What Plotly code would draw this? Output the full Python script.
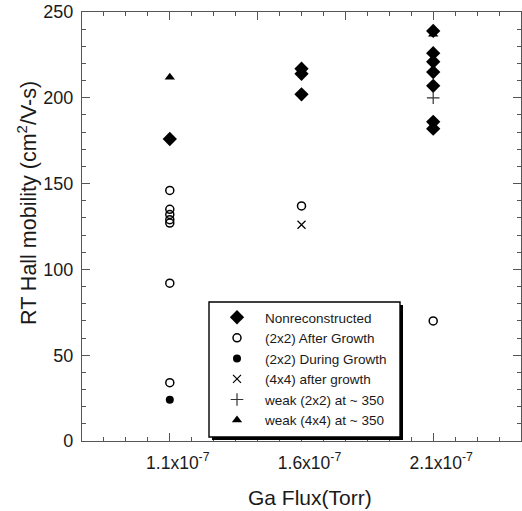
import plotly.graph_objects as go

# x values in units of 1e-7 Torr
tick_vals = [1.1, 1.6, 2.1]
tick_text = ["1.1x10<sup>-7</sup>", "1.6x10<sup>-7</sup>", "2.1x10<sup>-7</sup>"]

nonrec_x = [1.1, 1.6, 1.6, 1.6, 2.1, 2.1, 2.1, 2.1, 2.1, 2.1, 2.1]
nonrec_y = [176, 217, 214, 202, 239, 226, 221, 215, 207, 186, 182]

after_x = [1.1, 1.1, 1.1, 1.1, 1.1, 1.1, 1.1, 1.6, 2.1]
after_y = [146, 135, 132, 129, 127, 92, 34, 137, 70]

during_x = [1.1]
during_y = [24]

x44_x = [1.6]
x44_y = [126]

weak22_x = [2.1]
weak22_y = [200]

weak44_x = [1.1, 2.1]
weak44_y = [212, 237]

font_family = "Liberation Sans, Arial, sans-serif"
text_color = "#1a1a1a"

fig = go.Figure()
fig.add_trace(go.Scatter(x=weak44_x, y=weak44_y, mode="markers", name="weak (4x4) at ~ 350",
                         marker=dict(symbol="triangle-up", size=9, color="black"), legendrank=6))
fig.add_trace(go.Scatter(x=nonrec_x, y=nonrec_y, mode="markers", name="Nonreconstructed",
                         marker=dict(symbol="diamond", size=11, color="black"), legendrank=1))
fig.add_trace(go.Scatter(x=after_x, y=after_y, mode="markers", name="(2x2) After Growth",
                         marker=dict(symbol="circle-open", size=8, color="black", line=dict(width=1.5)), legendrank=2))
fig.add_trace(go.Scatter(x=during_x, y=during_y, mode="markers", name="(2x2) During Growth",
                         marker=dict(symbol="circle", size=8, color="black"), legendrank=3))
fig.add_trace(go.Scatter(x=x44_x, y=x44_y, mode="markers", name="(4x4) after growth",
                         marker=dict(symbol="x-thin-open", size=8, color="black", line=dict(width=1.2)), legendrank=4))
fig.add_trace(go.Scatter(x=weak22_x, y=weak22_y, mode="markers", name="weak (2x2) at ~ 350",
                         marker=dict(symbol="cross-thin-open", size=9, color="#333", line=dict(width=1.2)), legendrank=5))

axis_color = "#555555"
xr = [1.1 - 1/3, 2.1 + 1/3]
label_shift = 8 / 263.4
xr2 = [xr[0] - label_shift, xr[1] - label_shift]


def px_x(p):
    return (p - 82) / 439


def px_y(p):
    return (441 - p) / 429


fig.update_layout(
    width=522, height=511,
    margin=dict(l=82, r=1, t=12, b=70),
    paper_bgcolor="white", plot_bgcolor="white",
    font=dict(family=font_family, color=text_color, size=14),
    xaxis=dict(range=xr, tick0=xr[0], dtick=1/3, ticks="inside", ticklen=8, tickcolor=axis_color,
               showticklabels=False, showline=True, linecolor=axis_color, linewidth=1.2,
               mirror="ticks", showgrid=False, zeroline=False,
               minor=dict(tick0=xr[0], dtick=1/12, ticks="inside", ticklen=4, tickcolor=axis_color, showgrid=False)),
    xaxis2=dict(range=xr2, overlaying="x", anchor="y", side="bottom", tickvals=tick_vals, ticktext=tick_text,
                ticks="", showline=False, showgrid=False, zeroline=False, ticklabelstandoff=9,
                tickfont=dict(size=17.5, family=font_family, color=text_color)),
    yaxis=dict(range=[0, 250], tick0=0, dtick=50, ticks="inside", ticklen=8, tickcolor=axis_color,
               showline=True, linecolor=axis_color, linewidth=1.2, mirror="ticks",
               showgrid=False, zeroline=False, tickfont=dict(size=18), ticklabelstandoff=4,
               minor=dict(dtick=10, ticks="inside", ticklen=4, tickcolor=axis_color, showgrid=False)),
    legend=dict(x=px_x(209), y=px_y(302), xanchor="left", yanchor="top", bgcolor="rgba(0,0,0,0)",
                borderwidth=0, font=dict(size=13.5, family=font_family, color=text_color),
                itemwidth=46, tracegroupgap=0),
    showlegend=True,
)

# dummy trace to activate xaxis2
fig.add_trace(go.Scatter(x=[None], y=[None], xaxis="x2", showlegend=False, hoverinfo="skip"))

# legend frame with drop shadow
box = (209, 302, 400, 437)
sh = 3
fig.add_shape(type="rect", xref="paper", yref="paper",
              x0=px_x(box[0] + sh), x1=px_x(box[2] + sh), y0=px_y(box[3] + sh), y1=px_y(box[1] + sh),
              fillcolor="black", line=dict(width=0), layer="above")
fig.add_shape(type="rect", xref="paper", yref="paper",
              x0=px_x(box[0]), x1=px_x(box[2]), y0=px_y(box[3]), y1=px_y(box[1]),
              fillcolor="white", line=dict(width=1.4, color="black"), layer="above")

fig.add_annotation(text="RT Hall mobility (cm<sup>2</sup>/V-s)", xref="paper", yref="paper",
                   x=px_x(27), y=px_y(203), textangle=-90, showarrow=False,
                   font=dict(size=21.5, family=font_family, color=text_color), xanchor="center", yanchor="middle")
fig.add_annotation(text="Ga Flux(Torr)", xref="paper", yref="paper",
                   x=px_x(310), y=px_y(497), showarrow=False,
                   font=dict(size=21, family=font_family, color=text_color), xanchor="center", yanchor="middle")

fig.write_html("out.html", config={"displayModeBar": False},
               post_script="document.body.style.margin='0px';")
